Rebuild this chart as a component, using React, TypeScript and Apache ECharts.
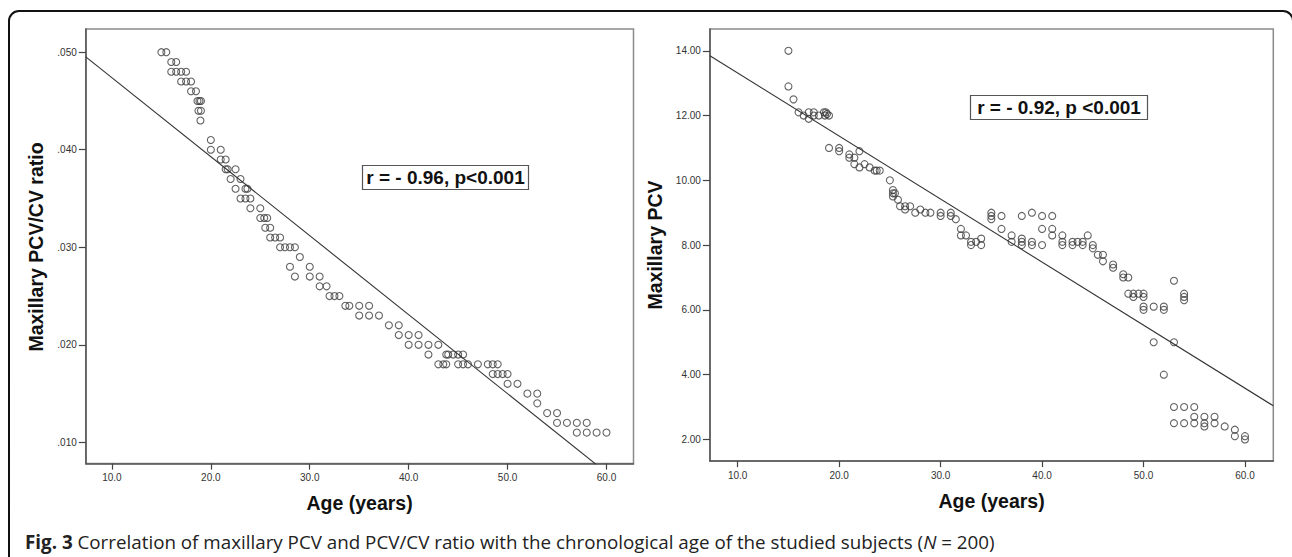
import React, { useEffect, useRef } from "react";
import * as echarts from "echarts";

// ---- Left panel: Maxillary PCV/CV ratio vs age ----
const ratioAges = [
  15, 15.5,
  16, 16.5,
  16, 16.5, 17, 17.5,
  17, 17.5, 18,
  18, 18.5,
  18.65, 18.85, 19,
  18.75, 19,
  18.95,
  20,
  20, 21,
  21, 21.5,
  21.5, 21.7, 22.5,
  22, 23,
  22.5, 23.5, 23.7,
  23, 23.5, 24,
  24, 25,
  25, 25.4, 25.7,
  25.5, 26,
  26, 26.5, 27,
  27, 27.5, 28, 28.5,
  29,
  28, 30,
  28.5, 30, 31,
  31, 31.7,
  32, 32.5, 33,
  33.6, 34, 35, 36,
  35, 36, 37,
  38, 39,
  39, 40, 41,
  40, 41, 42, 43,
  42, 43.8, 44, 44.5, 45, 45.5,
  43, 43.5, 43.8, 45, 45.5, 46, 47, 48, 48.5, 49,
  48.5, 49, 49.5, 50,
  50, 51,
  52, 53,
  53,
  54, 55,
  55, 56, 57, 58,
  57, 58, 59, 60,
];
const ratioValues = [
  0.05, 0.05,
  0.049, 0.049,
  0.048, 0.048, 0.048, 0.048,
  0.047, 0.047, 0.047,
  0.046, 0.046,
  0.045, 0.045, 0.045,
  0.044, 0.044,
  0.043,
  0.041,
  0.04, 0.04,
  0.039, 0.039,
  0.038, 0.038, 0.038,
  0.037, 0.037,
  0.036, 0.036, 0.036,
  0.035, 0.035, 0.035,
  0.034, 0.034,
  0.033, 0.033, 0.033,
  0.032, 0.032,
  0.031, 0.031, 0.031,
  0.03, 0.03, 0.03, 0.03,
  0.029,
  0.028, 0.028,
  0.027, 0.027, 0.027,
  0.026, 0.026,
  0.025, 0.025, 0.025,
  0.024, 0.024, 0.024, 0.024,
  0.023, 0.023, 0.023,
  0.022, 0.022,
  0.021, 0.021, 0.021,
  0.02, 0.02, 0.02, 0.02,
  0.019, 0.019, 0.019, 0.019, 0.019, 0.019,
  0.018, 0.018, 0.018, 0.018, 0.018, 0.018, 0.018, 0.018, 0.018, 0.018,
  0.017, 0.017, 0.017, 0.017,
  0.016, 0.016,
  0.015, 0.015,
  0.014,
  0.013, 0.013,
  0.012, 0.012, 0.012, 0.012,
  0.011, 0.011, 0.011, 0.011,
];

// ---- Right panel: Maxillary PCV vs age ----
const pcvAges = [
  15, 15, 15.5, 16, 16.5, 17, 17, 17.5, 17.5, 18,
  18.5, 18.7, 18.8, 19, 18.6,
  19, 20, 20, 21, 21, 21.5, 21.5, 22, 22, 22.5, 23,
  23.5, 23.7, 24,
  25, 25.3, 25.3, 25.3, 25.5, 25.8, 26, 26.5, 26.5, 27, 27.5, 28, 28.5, 29,
  30, 30, 31, 31, 31.5, 32, 32, 32.5, 33, 33, 33.5, 34, 34,
  35, 35, 35, 36, 36, 37, 37,
  38, 38, 38, 38, 39, 39, 39, 40, 40, 40, 41, 41, 41,
  42, 42, 42, 43, 43, 43.5, 44, 44, 44.5, 45, 45,
  45.5, 46, 46, 47, 47, 48, 48, 48.5,
  48.5, 49, 49, 49.5, 50, 50, 50, 50, 51, 52, 52,
  51, 52, 53, 53, 54, 54, 54,
  53, 53, 54, 54, 55, 55, 55, 56, 56, 56, 57, 57, 58, 59, 59, 60, 60,
];
const pcvValues = [
  14.0, 12.9, 12.5, 12.1, 12.0, 12.1, 11.9, 12.1, 12.0, 12.0,
  12.1, 12.1, 12.05, 12.0, 12.0,
  11.0, 11.0, 10.9, 10.8, 10.7, 10.7, 10.5, 10.9, 10.4, 10.5, 10.4,
  10.3, 10.3, 10.3,
  10.0, 9.7, 9.6, 9.5, 9.6, 9.4, 9.2, 9.2, 9.1, 9.2, 9.0, 9.1, 9.0, 9.0,
  9.0, 8.9, 9.0, 8.9, 8.8, 8.5, 8.3, 8.3, 8.1, 8.0, 8.1, 8.2, 8.0,
  9.0, 8.9, 8.8, 8.9, 8.5, 8.3, 8.1,
  8.9, 8.2, 8.1, 8.0, 9.0, 8.1, 8.0, 8.9, 8.5, 8.0, 8.9, 8.5, 8.3,
  8.3, 8.1, 8.0, 8.1, 8.0, 8.1, 8.1, 8.0, 8.3, 8.0, 7.9,
  7.7, 7.7, 7.5, 7.4, 7.3, 7.1, 7.0, 7.0,
  6.5, 6.5, 6.4, 6.5, 6.5, 6.4, 6.1, 6.0, 6.1, 6.1, 6.0,
  5.0, 4.0, 6.9, 5.0, 6.5, 6.4, 6.3,
  3.0, 2.5, 3.0, 2.5, 3.0, 2.7, 2.5, 2.7, 2.5, 2.4, 2.7, 2.5, 2.4, 2.3, 2.1, 2.1, 2.0,
];

const ageTicks = [10, 20, 30, 40, 50, 60];
const ratioTicks = [0.01, 0.02, 0.03, 0.04, 0.05];
const pcvTicks = [2, 4, 6, 8, 10, 12, 14];

// Fitted regression lines
const ratioFit = { intercept: 0.05549, slope: -0.00081 };
const pcvFit = { intercept: 15.263, slope: -0.1947 };

const ratioRange = { xMin: 7.36, xMax: 62.73, yMin: 0.00782, yMax: 0.05237 };
const pcvRange = { xMin: 7.26, xMax: 62.79, yMin: 1.33, yMax: 14.67 };

const ratioNote = "r = - 0.96, p<0.001";
const pcvNote = "r = - 0.92, p <0.001";
const ratioTitle = "Maxillary PCV/CV ratio";
const pcvTitle = "Maxillary PCV";
const ageTitle = "Age (years)";

const SANS = "'Liberation Sans', Arial, Helvetica, sans-serif";
const CAPTION_FONT = "'Open Sans', 'Noto Sans', sans-serif";

export default function App() {
  const ref = useRef<HTMLDivElement>(null);

  useEffect(() => {
    if (!ref.current) return;
    const chart = echarts.init(ref.current, undefined, { renderer: "svg" });

    const fitLine = (fit: { intercept: number; slope: number }, r: { xMin: number; xMax: number }) => [
      [r.xMin, fit.intercept + fit.slope * r.xMin],
      [r.xMax, fit.intercept + fit.slope * r.xMax],
    ];

    const gridStyle = {
      show: true,
      borderColor: "#8a8a8a",
      borderWidth: 1.5,
      backgroundColor: "transparent",
    };

    const xAxisFor = (gridIndex: number, r: typeof ratioRange) => ({
      type: "value",
      gridIndex,
      min: r.xMin,
      max: r.xMax,
      axisLine: { show: true, onZero: false, lineStyle: { color: "#555", width: 1.5 } },
      axisTick: { show: true, customValues: ageTicks, length: 6, lineStyle: { color: "#444", width: 1.2 } },
      axisLabel: {
        customValues: ageTicks,
        formatter: (v: number) => v.toFixed(1),
        color: "#333",
        fontSize: 10,
        fontFamily: SANS,
        margin: 9,
      },
      splitLine: { show: false },
    });

    const yAxisFor = (gridIndex: number, r: typeof ratioRange, ticks: number[], fmt: (v: number) => string) => ({
      type: "value",
      gridIndex,
      min: r.yMin,
      max: r.yMax,
      axisLine: { show: true, onZero: false, lineStyle: { color: "#555", width: 1.5 } },
      axisTick: { show: true, customValues: ticks, length: 7, lineStyle: { color: "#444", width: 1.2 } },
      axisLabel: {
        customValues: ticks,
        formatter: fmt,
        color: "#333",
        fontSize: 10,
        fontFamily: SANS,
        margin: 9,
      },
      splitLine: { show: false },
    });

    const scatterStyle = {
      color: "rgba(0,0,0,0)",
      borderColor: "#3c3c3c",
      borderWidth: 1.1,
    };

    const titleStyle = (text: string) => ({
      text,
      fontFamily: SANS,
      fontWeight: "bold",
      fontSize: 19.5,
      fill: "#111",
      align: "center",
      verticalAlign: "middle",
    });

    chart.setOption({
      animation: false,
      backgroundColor: "#ffffff",
      grid: [
        { left: 85.8, top: 29.1, width: 547.7, height: 434.5, ...gridStyle },
        { left: 709.9, top: 29.1, width: 563.4, height: 432, ...gridStyle },
      ],
      xAxis: [xAxisFor(0, ratioRange), xAxisFor(1, pcvRange)],
      yAxis: [
        yAxisFor(0, ratioRange, ratioTicks, (v: number) => v.toFixed(3).replace(/^0/, "")),
        yAxisFor(1, pcvRange, pcvTicks, (v: number) => v.toFixed(2)),
      ],
      series: [
        {
          type: "scatter",
          xAxisIndex: 0,
          yAxisIndex: 0,
          symbol: "circle",
          symbolSize: 7,
          itemStyle: scatterStyle,
          data: ratioAges.map((a, i) => [a, ratioValues[i]]),
        },
        {
          type: "line",
          xAxisIndex: 0,
          yAxisIndex: 0,
          clip: true,
          symbol: "none",
          lineStyle: { color: "#333", width: 1.1 },
          data: fitLine(ratioFit, ratioRange),
        },
        {
          type: "scatter",
          xAxisIndex: 1,
          yAxisIndex: 1,
          symbol: "circle",
          symbolSize: 7,
          itemStyle: scatterStyle,
          data: pcvAges.map((a, i) => [a, pcvValues[i]]),
        },
        {
          type: "line",
          xAxisIndex: 1,
          yAxisIndex: 1,
          clip: true,
          symbol: "none",
          lineStyle: { color: "#333", width: 1.1 },
          data: fitLine(pcvFit, pcvRange),
        },
      ],
      graphic: [
        {
          type: "rect",
          shape: { x: 9, y: 11, width: 1284, height: 620, r: 10 },
          style: { fill: "none", stroke: "#111", lineWidth: 2 },
          silent: true,
        },
        // annotation boxes
        {
          type: "rect",
          shape: { x: 362.5, y: 165.5, width: 166, height: 24 },
          style: { fill: "#fff", stroke: "#555", lineWidth: 1.2 },
          z: 10,
        },
        {
          type: "text",
          x: 445.5,
          y: 177.5,
          z: 11,
          style: { ...titleStyle(ratioNote), fontSize: 19 },
        },
        {
          type: "rect",
          shape: { x: 970.5, y: 95.5, width: 177, height: 24 },
          style: { fill: "#fff", stroke: "#555", lineWidth: 1.2 },
          z: 10,
        },
        {
          type: "text",
          x: 1059,
          y: 107.5,
          z: 11,
          style: { ...titleStyle(pcvNote), fontSize: 19 },
        },
        // axis titles
        { type: "text", x: 36, y: 247, rotation: Math.PI / 2, style: titleStyle(ratioTitle) },
        { type: "text", x: 655, y: 245, rotation: Math.PI / 2, style: titleStyle(pcvTitle) },
        { type: "text", x: 359.6, y: 503, style: titleStyle(ageTitle) },
        { type: "text", x: 991.6, y: 501, style: titleStyle(ageTitle) },
        // caption
        {
          type: "text",
          x: 25,
          y: 542,
          style: {
            text: "{b|Fig. 3} Correlation of maxillary PCV and PCV/CV ratio with the chronological age of the studied subjects ({i|N} = 200)",
            fontFamily: CAPTION_FONT,
            fontSize: 18.8,
            fill: "#222",
            align: "left",
            verticalAlign: "middle",
            rich: {
              b: { fontFamily: CAPTION_FONT, fontSize: 18.8, fontWeight: "bold", fill: "#222" },
              i: { fontFamily: CAPTION_FONT, fontSize: 18.8, fontStyle: "italic", fill: "#222" },
            },
          },
        },
      ],
    });

    return () => chart.dispose();
  }, []);

  return (
    <div
      ref={ref}
      style={{ position: "absolute", left: 0, top: 0, width: 1292, height: 557, background: "#fff" }}
    />
  );
}
